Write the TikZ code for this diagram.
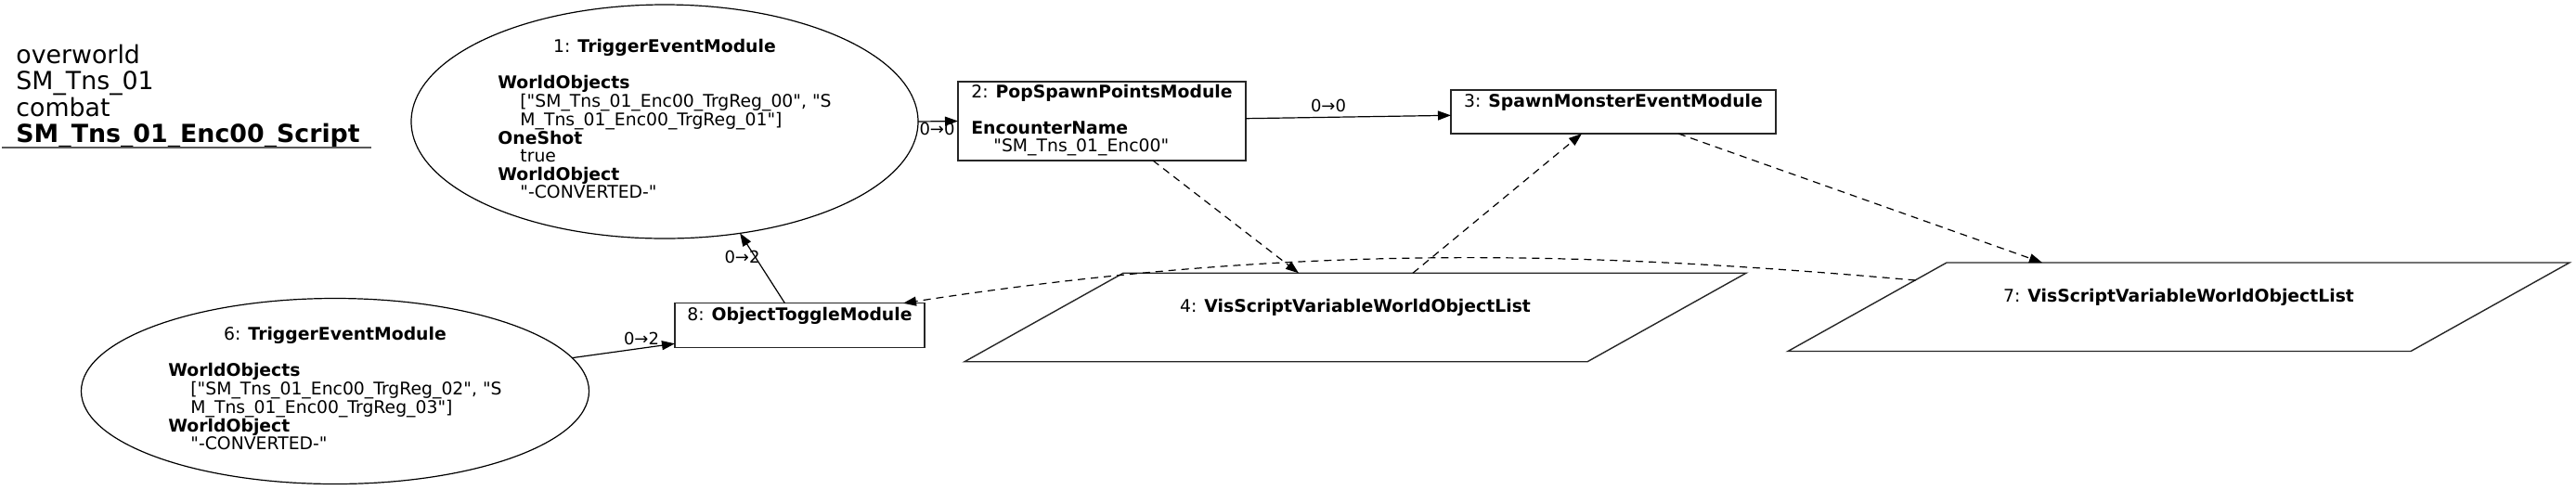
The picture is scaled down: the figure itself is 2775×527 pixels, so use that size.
\documentclass[tikz,border=0pt]{standalone}
\usepackage{fontspec}
\setmainfont{DejaVu Sans}[Ligatures=TeXOff]
\usetikzlibrary{shapes.geometric,arrows.meta,calc}
\newcommand{\nfont}{\fontsize{9.4pt}{9.4pt}\selectfont}
\newcommand{\lfont}{\fontsize{9pt}{9pt}\selectfont}
\newcommand{\tfont}{\fontsize{13.4pt}{13.5pt}\selectfont}
\newcommand{\ind}{\hspace*{12pt}}
\begin{document}
\begin{tikzpicture}[x=0.5pt,y=-0.5pt,
  ellnode/.style={ellipse, draw, line width=0.6pt, inner sep=0pt, outer sep=0pt, font=\nfont},
  boxnode/.style={rectangle, draw=black!85, line width=0.7pt, inner sep=0pt, outer sep=0pt, font=\nfont},
  plnode/.style={rectangle, inner sep=0pt, outer sep=0pt, minimum width=335.5pt, minimum height=47.75pt, font=\nfont},
  plborder/.style={draw=black!85, line width=0.7pt},
  flow/.style={-{Triangle[length=7pt,width=5pt]}, line width=0.6pt},
  dep/.style={flow, dash pattern=on 4pt off 3pt},
  elabel/.style={font=\lfont, inner sep=0pt, anchor=base},
  uline/.style={draw=black!65, line width=1pt}
]
\useasboundingbox (0,0) rectangle (2775,527);

% title
\node[anchor=north west, inner sep=0pt, font=\tfont] (title) at (17,48)
  {\begin{tabular}{@{}l@{}}overworld\\SM\_Tns\_01\\combat\\\textbf{SM\_Tns\_01\_Enc00\_Script}\end{tabular}};
\draw[uline] (2,159) -- (400,159);

% nodes
\node[ellnode, minimum width=273pt, minimum height=126pt] (n1) at (716,131)
  {\begin{tabular}{@{}l@{}}\multicolumn{1}{@{}c@{}}{1: \textbf{TriggerEventModule}}\\ \\
   \textbf{WorldObjects}\\
   \ind["SM\_Tns\_01\_Enc00\_TrgReg\_00", "S\\
   \ind M\_Tns\_01\_Enc00\_TrgReg\_01"]\\
   \textbf{OneShot}\\
   \ind true\\
   \textbf{WorldObject}\\
   \ind"-CONVERTED-"\end{tabular}};

\node[boxnode, minimum width=155pt, minimum height=42.5pt] (n2) at (1187,130.5)
  {\begin{tabular}{@{}l@{}}\multicolumn{1}{@{}c@{}}{2: \textbf{PopSpawnPointsModule}}\\ \\
   \textbf{EncounterName}\\
   \ind"SM\_Tns\_01\_Enc00"\end{tabular}};

\node[boxnode, minimum width=175pt, minimum height=23.5pt] (n3) at (1738,120.5)
  {\begin{tabular}{@{}c@{}}3: \textbf{SpawnMonsterEventModule}\\ \mbox{}\end{tabular}};

\node[plnode] (n4) at (1460,342)
  {\begin{tabular}{@{}c@{}}4: \textbf{VisScriptVariableWorldObjectList}\\ \mbox{}\end{tabular}};
\draw[plborder] ($(n4.south west)+(-85.5,0)$) -- ($(n4.north west)+(85.5,0)$) -- ($(n4.north east)+(85.5,0)$) -- ($(n4.south east)+(-85.5,0)$) -- cycle;

\node[ellnode, minimum width=273.5pt, minimum height=100pt] (n6) at (361,421.5)
  {\begin{tabular}{@{}l@{}}\multicolumn{1}{@{}c@{}}{6: \textbf{TriggerEventModule}}\\ \\
   \textbf{WorldObjects}\\
   \ind["SM\_Tns\_01\_Enc00\_TrgReg\_02", "S\\
   \ind M\_Tns\_01\_Enc00\_TrgReg\_03"]\\
   \textbf{WorldObject}\\
   \ind"-CONVERTED-"\end{tabular}};

\node[plnode] (n7) at (2347,330.75)
  {\begin{tabular}{@{}c@{}}7: \textbf{VisScriptVariableWorldObjectList}\\ \mbox{}\end{tabular}};
\draw[plborder] ($(n7.south west)+(-85.5,0)$) -- ($(n7.north west)+(85.5,0)$) -- ($(n7.north east)+(85.5,0)$) -- ($(n7.south east)+(-85.5,0)$) -- cycle;

\node[boxnode, minimum width=134.5pt, minimum height=23.75pt] (n8) at (861.5,350.5)
  {\begin{tabular}{@{}c@{}}8: \textbf{ObjectToggleModule}\\ \mbox{}\end{tabular}};

% connectors
\draw[flow] (n1.east) -- (n2.west);
\node[elabel] (l12) at (1009.5,145) {0→0};

\draw[flow] ([yshift=1.4pt]n2.east) -- ([yshift=-1.9pt]n3.west);
\node[elabel] (l23) at (1431,120) {0→0};

\draw[dep] ([xshift=27.5pt]n2.south) -- ([xshift=-30.5pt]n4.north);
\draw[dep] ([xshift=31pt]n4.north) -- ([xshift=-17pt]n3.south);
\draw[dep] ([xshift=35pt]n3.south) -- ([xshift=-73.5pt]n7.north);
\draw[dep] ($(n7.north west)+(52,19)$) .. controls (1700,270) and (1394,262) .. ([xshift=-11.5pt]n8.north east);

\draw[flow] ([xshift=-8pt]n8.north) -- (n1.-56.2);
\node[elabel] (l81) at (799.5,283.3) {0→2};

\draw[flow] (n6.8.3) -- ([yshift=2pt]n8.south west);
\node[elabel] (l68) at (691,371.7) {0→2};
\end{tikzpicture}
\end{document}
